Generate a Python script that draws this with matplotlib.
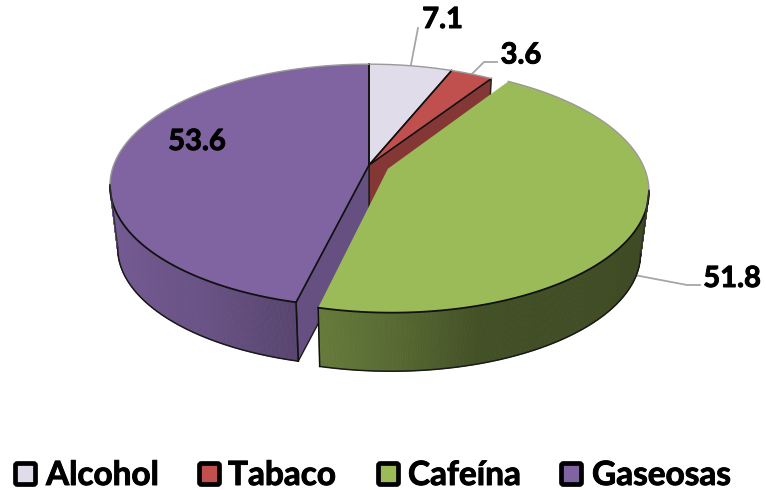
#!/usr/bin/env python3
"""Draw an exploded 3D pie of consumption shares with a perspective-projected disc."""

import matplotlib
matplotlib.use("Agg")
import matplotlib.patheffects as pe
import matplotlib.pyplot as plt
import numpy as np
from matplotlib.collections import PolyCollection
from matplotlib.patches import FancyBboxPatch, Polygon

categories = ["Alcohol", "Tabaco", "Cafeína", "Gaseosas"]
values = [7.1, 3.6, 51.8, 53.6]
colors = ["#E1DCE9", "#C0504D", "#9BBB59", "#8064A2"]

# Disc geometry in pixels
CX, CY = 369, 165
RX, RY = 255.3, 118.0
PERSP = 0.17
DEPTH = 63.0
BOTTOM_SCALE = 0.97
EXPLODE = 0.08  # only the Cafeína slice is pulled out

LABEL_FONT = "Lato"
LEADER = "#A6A6A6"
RIM_BACK = "#999999"
BOLDER = [pe.withStroke(linewidth=0.7, foreground="black")]


def project(u, v, level=0.0, offset=(0.0, 0.0)):
    """Map disc coordinates to pixels; level 0 is the top face, 1 the bottom."""
    u = np.asarray(u, dtype=float) + offset[0]
    v = np.asarray(v, dtype=float) + offset[1]
    w = 1 + PERSP * v
    scale = 1 - (1 - BOTTOM_SCALE) * level
    return CX + scale * RX * u / w, CY + DEPTH * level - scale * RY * v / w


def arc(start, end, level=0.0, offset=(0.0, 0.0), n=200):
    theta = np.radians(np.linspace(start, end, n))
    return project(np.sin(theta), np.cos(theta), level, offset)


def shade(color, factor):
    return tuple(c * factor for c in matplotlib.colors.to_rgb(color))


def draw_wall(ax, start, end, color, offset, x_stops, factor_stops):
    """Outer wall as narrow quads, darkened according to screen position."""
    tx, ty = arc(start, end, 0, offset)
    bx, by = arc(start, end, 1, offset)
    quads, faces = [], []
    for i in range(len(tx) - 1):
        quads.append([(tx[i], ty[i]), (tx[i + 1], ty[i + 1]),
                      (bx[i + 1], by[i + 1]), (bx[i], by[i])])
        faces.append(shade(color, np.interp(tx[i], x_stops, factor_stops)))
    ax.add_collection(PolyCollection(quads, facecolors=faces, edgecolors=faces,
                                     linewidths=0.6, zorder=2))
    ax.plot(bx, by, color="#1a1a1a", lw=1.1, zorder=3)


def radial_wall(ax, angle, color):
    """Flat cut face running from the centre to the rim."""
    t = np.radians(angle)
    x0, y0 = project(0, 0, 0)
    x1, y1 = project(np.sin(t), np.cos(t), 0)
    x2, y2 = project(np.sin(t), np.cos(t), 1)
    x3, y3 = project(0, 0, 1)
    ax.add_patch(Polygon([(x0, y0), (x1, y1), (x2, y2), (x3, y3)], closed=True,
                         facecolor=color, edgecolor="#1a1a1a", lw=1.0, zorder=2))


def value_label(ax, x, y, value):
    ax.text(x, y, f"{value:.1f}", fontsize=21, fontweight="bold", family=LABEL_FONT,
            color="black", ha="center", va="baseline", zorder=9, path_effects=BOLDER)


fig = plt.figure(figsize=(7.66, 4.90), dpi=100)
ax = fig.add_axes([0, 0, 1, 1])
ax.set_xlim(0, 766)
ax.set_ylim(490, 0)
ax.axis("off")

total = sum(values)
bounds = np.concatenate([[0], np.cumsum(values) / total * 360])
mids = (bounds[:-1] + bounds[1:]) / 2

mid_cafe = np.radians(mids[2])
cafe_offset = (EXPLODE * np.sin(mid_cafe), EXPLODE * np.cos(mid_cafe))
no_offset = (0.0, 0.0)

# Cut faces seen through the gap left by the pulled-out slice
radial_wall(ax, bounds[2], shade(colors[1], 0.69))
radial_wall(ax, bounds[3], shade(colors[3], 0.80))

# Top faces at the back
for i in (0, 1):
    x, y = arc(bounds[i], bounds[i + 1])
    cx0, cy0 = project(0, 0)
    pts = np.column_stack([np.r_[cx0, x], np.r_[cy0, y]])
    ax.add_patch(Polygon(pts, closed=True, facecolor=colors[i], edgecolor="none", zorder=4))
    ax.plot([x[0], cx0, x[-1]], [y[0], cy0, y[-1]], color="#111111", lw=1.1, zorder=5)
    ax.plot(x, y, color=RIM_BACK, lw=1.0, zorder=5)

# Gaseosas: wall from the front corner to the left silhouette
gx, gy = arc(bounds[3], bounds[4])
left = int(np.argmin(gx))
g_theta = np.linspace(bounds[3], bounds[4], 200)[left]
draw_wall(ax, bounds[3], g_theta, colors[3], no_offset,
          [115, 200, 298], [0.90, 0.82, 0.68])
cx0, cy0 = project(0, 0)
ax.add_patch(Polygon(np.column_stack([np.r_[cx0, gx], np.r_[cy0, gy]]), closed=True,
                     facecolor=colors[3], edgecolor="none", zorder=4))
ax.plot([gx[-1], cx0, gx[0]], [gy[-1], cy0, gy[0]], color="#111111", lw=1.2, zorder=5)
ax.plot(gx[:left + 1], gy[:left + 1], color="#111111", lw=1.3, zorder=5)
ax.plot(gx[left:], gy[left:], color=RIM_BACK, lw=1.0, zorder=5)
bx, by = arc(bounds[3], g_theta, 1)
ax.plot([gx[0], bx[0]], [gy[0], by[0]], color="#111111", lw=1.2, zorder=5)
ax.plot([gx[left], bx[-1]], [gy[left], by[-1]], color="#333333", lw=1.0, zorder=5)

# Cafeína: wall from the right silhouette round to its front corner, then the top face
fx, fy = arc(bounds[2], bounds[3], 0, cafe_offset)
right = int(np.argmax(fx))
f_theta = np.linspace(bounds[2], bounds[3], 200)[right]
draw_wall(ax, f_theta, bounds[3], colors[2], cafe_offset,
          [318, 400, 480, 642], [0.66, 0.56, 0.43, 0.40])
ax0, ay0 = project(0, 0, 0, cafe_offset)
ax.add_patch(Polygon(np.column_stack([np.r_[ax0, fx], np.r_[ay0, fy]]), closed=True,
                     facecolor=colors[2], edgecolor="none", zorder=6))
ax.plot(fx[right:], fy[right:], color="#111111", lw=1.3, zorder=7)
ax.plot(fx[:right + 1], fy[:right + 1], color=RIM_BACK, lw=1.0, zorder=7)
bx, by = arc(f_theta, bounds[3], 1, cafe_offset)
ax.plot([fx[-1], bx[-1]], [fy[-1], by[-1]], color="#111111", lw=1.1, zorder=7)
ax.plot([fx[right], bx[0]], [fy[right], by[0]], color="#333333", lw=1.0, zorder=7)

# Value labels with leader lines from the slice rims
t = np.radians(mids[0])
sx, sy = project(np.sin(t), np.cos(t))
ax.plot([sx, 418], [sy, 28], color=LEADER, lw=1.3, zorder=3)
value_label(ax, 442.5, 28, values[0])

t = np.radians(mids[1])
sx, sy = project(np.sin(t), np.cos(t))
ax.plot([sx, 484, 497], [sy, 62, 62], color=LEADER, lw=1.3, zorder=3)
value_label(ax, 521, 63.5, values[1])

tx, ty = project(np.sin(mid_cafe), np.cos(mid_cafe), 0.9, cafe_offset)
ax.plot([tx, 687, 700], [ty, 285, 285], color=LEADER, lw=1.3, zorder=1)
value_label(ax, 732, 287, values[2])
value_label(ax, 197, 150, values[3])

# Legend row
swatch_x = [13, 197, 376, 559]
text_x = [46, 228, 408, 592]
for name, color, sx, lx in zip(categories, colors, swatch_x, text_x):
    ax.add_patch(FancyBboxPatch((sx + 2.5, 463.5), 20, 21, boxstyle="round,pad=0,rounding_size=2",
                                facecolor=color, edgecolor="black", lw=3.4, zorder=9))
    ax.text(lx, 485, name, fontsize=24, fontweight="bold", family=LABEL_FONT,
            color="black", ha="left", va="baseline", zorder=9, path_effects=BOLDER)

fig.savefig("out.png", dpi=100, facecolor="white")
plt.close(fig)
